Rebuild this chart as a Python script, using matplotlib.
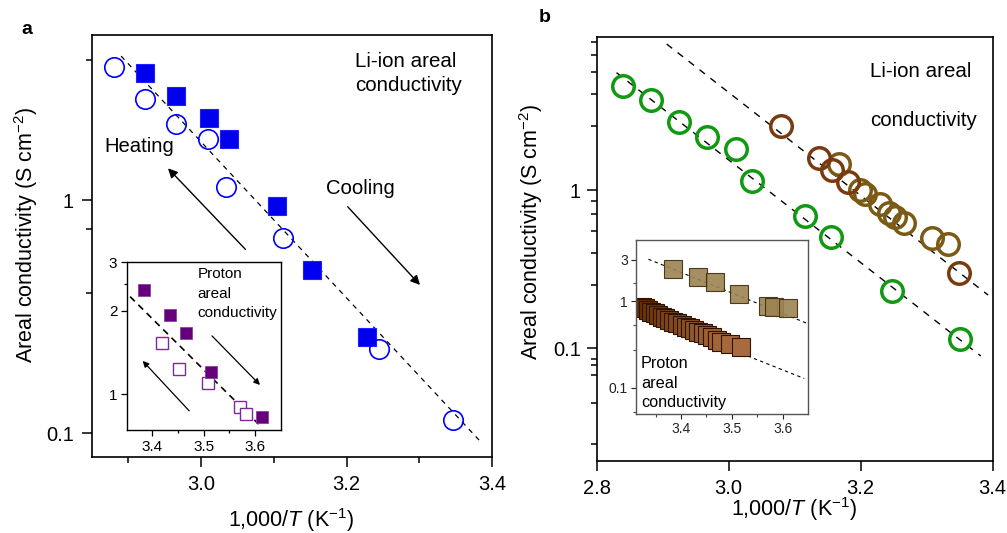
import matplotlib
matplotlib.use('Agg')
import matplotlib.pyplot as plt
from matplotlib.ticker import FixedLocator, NullFormatter, NullLocator, FixedFormatter

plt.rcParams['font.family'] = ['Liberation Sans', 'DejaVu Sans']
plt.rcParams['mathtext.fontset'] = 'custom'
plt.rcParams['mathtext.rm'] = 'Liberation Sans'
plt.rcParams['mathtext.it'] = 'Liberation Sans:italic'

# ---------------- data: panel a ----------------
a_circ_x = [2.880, 2.923, 2.966, 3.010, 3.034, 3.113, 3.245, 3.347]
a_circ_y = [3.73, 2.71, 2.13, 1.83, 1.14, 0.69, 0.229, 0.1137]
a_sq_x = [2.923, 2.966, 3.011, 3.038, 3.104, 3.153, 3.228]
a_sq_y = [3.52, 2.80, 2.26, 1.83, 0.94, 0.50, 0.259]
a_fit_x = [2.890, 3.383]
a_fit_y = [4.15, 0.0927]

# inset a (proton)
ai_fill_x = [3.384, 3.434, 3.465, 3.515, 3.613]
ai_fill_y = [2.37, 1.93, 1.66, 1.20, 0.83]
ai_open_x = [3.419, 3.452, 3.508, 3.571, 3.582]
ai_open_y = [1.53, 1.23, 1.10, 0.90, 0.85]
ai_fit_x = [3.357, 3.607]
ai_fit_y = [2.25, 0.78]

# ---------------- data: panel b ----------------
b_green_x = [2.840, 2.882, 2.925, 2.967, 3.011, 3.036, 3.115, 3.155, 3.247, 3.350]
b_green_y = [4.56, 3.70, 2.70, 2.15, 1.82, 1.14, 0.689, 0.507, 0.229, 0.114]
b_brown_x = [3.079, 3.137, 3.157, 3.181, 3.349]
b_brown_y = [2.54, 1.60, 1.34, 1.12, 0.301]
b_olive_x = [3.167, 3.199, 3.207, 3.229, 3.243, 3.252, 3.266, 3.308, 3.333]
b_olive_y = [1.47, 1.00, 0.944, 0.812, 0.72, 0.68, 0.617, 0.496, 0.456]
b_fit1_x = [2.830, 3.382]
b_fit1_y = [5.51, 0.0894]
b_fit2_x = [2.906, 3.393]
b_fit2_y = [8.36, 0.217]

# inset b (proton)
bi_up_x = [3.384, 3.434, 3.466, 3.514, 3.571, 3.582, 3.611]
bi_up_y = [2.34, 1.91, 1.67, 1.20, 0.88, 0.86, 0.84]
bi_low_x = [3.323, 3.329, 3.336, 3.342, 3.349, 3.355, 3.362, 3.369, 3.377, 3.385,
            3.393, 3.402, 3.410, 3.418, 3.426, 3.434, 3.443, 3.452, 3.461, 3.470,
            3.478, 3.497, 3.518]
bi_low_y = [0.859, 0.824, 0.787, 0.753, 0.722, 0.690, 0.659, 0.631, 0.604, 0.577,
            0.553, 0.529, 0.506, 0.484, 0.463, 0.442, 0.424, 0.406, 0.388, 0.355,
            0.340, 0.317, 0.297]
bi_fit_up_x = [3.336, 3.651]
bi_fit_up_y = [3.03, 0.543]
bi_fit_low_x = [3.312, 3.642]
bi_fit_low_y = [0.753, 0.128]

W, H = 1007, 533
fig = plt.figure(figsize=(W / 100, H / 100), dpi=100)


def px_axes(l, r, t, b):
    return fig.add_axes([l / W, (H - b) / H, (r - l) / W, (b - t) / H])


def arrow(ax, start, end, lw=1.0, ms=14):
    ax.annotate('', xy=end, xytext=start,
                arrowprops=dict(arrowstyle='-|>', color='k', lw=lw,
                                mutation_scale=ms, shrinkA=0, shrinkB=0))


DASH = (0, (4, 4))

# ================= panel a =================
ax = px_axes(92, 492, 35, 457)
ax.set_yscale('log')
ax.plot(a_fit_x, a_fit_y, color='k', lw=0.9, ls=DASH, zorder=1)
ax.plot(a_sq_x, a_sq_y, ls='none', marker='s', ms=13, mfc='#0000ee',
        mec='#2020ff', mew=0.8, zorder=3)
ax.plot(a_circ_x, a_circ_y, ls='none', marker='o', ms=14, mfc='none',
        mec='#0000ff', mew=1.2, zorder=3)
ax.set_xlim(2.85, 3.4)
ax.set_ylim(0.0789, 5.11)
ax.xaxis.set_major_locator(FixedLocator([3.0, 3.2, 3.4]))
ax.xaxis.set_minor_locator(FixedLocator([2.9, 3.1, 3.3]))
ax.xaxis.set_major_formatter(FixedFormatter(['3.0', '3.2', '3.4']))
ax.yaxis.set_major_locator(FixedLocator([0.1, 1]))
ax.yaxis.set_major_formatter(FixedFormatter(['0.1', '1']))
ax.yaxis.set_minor_locator(FixedLocator([0.4, 0.75, 4]))
ax.yaxis.set_minor_formatter(NullFormatter())
ax.tick_params(which='major', direction='out', length=7, width=1.1, labelsize=14.5, pad=6)
ax.tick_params(which='minor', direction='out', length=4, width=1.1)
for s in ax.spines.values():
    s.set_linewidth(1.2)
ax.text(0.6575, 0.925, 'Li-ion areal', transform=ax.transAxes, fontsize=14.8, va='baseline')
ax.text(0.6575, 0.867, 'conductivity', transform=ax.transAxes, fontsize=14.8, va='baseline')
ax.text(0.03, 0.7235, 'Heating', transform=ax.transAxes, fontsize=14.6, va='baseline')
ax.text(0.585, 0.623, 'Cooling', transform=ax.transAxes, fontsize=14.6, va='baseline')
arrow(ax, (3.061, 0.614), (2.9545, 1.368))
arrow(ax, (3.2016, 0.936), (3.301, 0.432))

# inset a
ia = px_axes(127, 280.7, 262, 430)
ia.set_yscale('log')
ia.plot(ai_fit_x, ai_fit_y, color='k', lw=1.2, ls=(0, (4, 3)), zorder=1)
ia.plot(ai_open_x, ai_open_y, ls='none', marker='s', ms=9, mfc='white',
        mec='#7a2a9a', mew=1.0, zorder=2)
ia.plot(ai_fill_x, ai_fill_y, ls='none', marker='s', ms=9, mfc='#66007a',
        mec='#8a40a0', mew=0.6, zorder=3)
ia.set_xlim(3.351, 3.650)
ia.set_ylim(0.743, 3.0)
ia.xaxis.set_major_locator(FixedLocator([3.4, 3.5, 3.6]))
ia.xaxis.set_major_formatter(FixedFormatter(['3.4', '3.5', '3.6']))
ia.xaxis.set_minor_locator(FixedLocator([3.45, 3.55]))
ia.yaxis.set_major_locator(FixedLocator([1, 2, 3]))
ia.yaxis.set_major_formatter(FixedFormatter(['1', '2', '3']))
ia.yaxis.set_minor_locator(FixedLocator([2.5]))
ia.yaxis.set_minor_formatter(NullFormatter())
ia.tick_params(which='major', direction='out', length=4, width=0.9, labelsize=11, pad=3)
ia.tick_params(which='minor', direction='out', length=2.5, width=0.9)
for s in ia.spines.values():
    s.set_linewidth(1.0)
for yy, tt in [(0.903, 'Proton'), (0.7875, 'areal'), (0.674, 'conductivity')]:
    ia.text(0.46, yy, tt, transform=ia.transAxes, fontsize=11, va='baseline')
arrow(ia, (3.472, 0.871), (3.3815, 1.319), lw=0.9, ms=9)
arrow(ia, (3.5163, 1.624), (3.6097, 1.08), lw=0.9, ms=9)

fig.text(26 / W, (H - 235) / H, 'Areal conductivity (S cm$^{-2}$)', rotation=90,
         ha='center', va='center', fontsize=15.5)
fig.text(291 / W, (H - 520) / H, '1,000/$\\mathit{T}$ (K$^{-1}$)', ha='center',
         va='center', fontsize=15.5)
fig.text(27 / W, (H - 30) / H, 'a', ha='center', va='center', fontsize=14, fontweight='bold')

# ================= panel b =================
bx = px_axes(596.7, 992.7, 37.3, 460.7)
bx.set_yscale('log')
bx.plot(b_fit1_x, b_fit1_y, color='k', lw=1.0, ls=(0, (5, 5)), zorder=1)
bx.plot(b_fit2_x, b_fit2_y, color='k', lw=1.0, ls=(0, (5, 5)), zorder=1)
bx.plot(b_green_x, b_green_y, ls='none', marker='o', ms=15.5, mfc='none',
        mec='#119911', mew=2.5, zorder=3)
bx.plot(b_olive_x, b_olive_y, ls='none', marker='o', ms=15.5, mfc='none',
        mec='#7a5a14', mew=2.5, zorder=3)
bx.plot(b_brown_x, b_brown_y, ls='none', marker='o', ms=15.5, mfc='none',
        mec='#7a3a10', mew=2.5, zorder=4)
bx.set_xlim(2.8, 3.4)
bx.set_ylim(0.0195, 9.22)
bx.xaxis.set_major_locator(FixedLocator([2.8, 3.0, 3.2, 3.4]))
bx.xaxis.set_major_formatter(FixedFormatter(['2.8', '3.0', '3.2', '3.4']))
bx.xaxis.set_minor_locator(NullLocator())
bx.yaxis.set_major_locator(FixedLocator([0.1, 1]))
bx.yaxis.set_major_formatter(FixedFormatter(['0.1', '1']))
bx.yaxis.set_minor_locator(FixedLocator([0.025, 0.045, 0.068, 0.079, 0.0856,
                                         0.25, 0.4, 0.55, 0.71, 0.857,
                                         2.53, 4.06, 5.55, 7.17, 8.57]))
bx.yaxis.set_minor_formatter(NullFormatter())
bx.tick_params(which='major', direction='out', length=7.5, width=1.1, labelsize=14.5, pad=4)
bx.tick_params(axis='x', which='major', pad=6)
bx.tick_params(which='minor', direction='out', length=4, width=1.1)
for s in bx.spines.values():
    s.set_linewidth(1.2)
bx.text(0.690, 0.907, 'Li-ion areal', transform=bx.transAxes, fontsize=14.8, va='baseline')
bx.text(0.690, 0.7905, 'conductivity', transform=bx.transAxes, fontsize=14.8, va='baseline')

# inset b
ib = px_axes(635.7, 807.7, 240, 414)
ib.set_yscale('log')
ib.plot(bi_fit_up_x, bi_fit_up_y, color='k', lw=0.8, ls=(0, (3, 3)), zorder=1)
ib.plot(bi_fit_low_x, bi_fit_low_y, color='k', lw=0.8, ls=(0, (3, 3)), zorder=1)
n = len(bi_low_x)
for i, (xx, yy) in enumerate(zip(bi_low_x, bi_low_y)):
    f = i / (n - 1)
    c0 = (0.38, 0.17, 0.0)
    c1 = (0.66, 0.42, 0.25)
    col = tuple(c0[k] + (c1[k] - c0[k]) * f for k in range(3))
    ib.plot([xx], [yy], ls='none', marker='s', ms=13, mfc=col, mec='#2e1400',
            mew=0.8, zorder=2 + i * 0.01)
ib.plot(bi_up_x, bi_up_y, ls='none', marker='s', ms=13, mfc='#9c8352',
        mec='#3a2c0c', mew=0.8, alpha=0.9, zorder=3)
ib.set_xlim(3.311, 3.649)
ib.set_ylim(0.0498, 5.05)
ib.xaxis.set_major_locator(FixedLocator([3.4, 3.5, 3.6]))
ib.xaxis.set_major_formatter(FixedFormatter(['3.4', '3.5', '3.6']))
ib.xaxis.set_minor_locator(FixedLocator([3.35, 3.45, 3.55]))
ib.yaxis.set_major_locator(FixedLocator([0.1, 1, 3]))
ib.yaxis.set_major_formatter(FixedFormatter(['0.1', '1', '3']))
ib.yaxis.set_minor_locator(FixedLocator([0.052, 0.27, 0.53, 1.6]))
ib.yaxis.set_minor_formatter(NullFormatter())
ib.tick_params(which='major', direction='out', length=3.5, width=0.8, labelsize=10,
               pad=2, colors='#222222')
ib.tick_params(which='minor', direction='out', length=2.5, width=0.8, colors='#444444')
for s in ib.spines.values():
    s.set_linewidth(1.0)
    s.set_color('#555555')
for yy, tt in [(0.263, 'Proton'), (0.148, 'areal'), (0.042, 'conductivity')]:
    ib.text(0.031, yy, tt, transform=ib.transAxes, fontsize=11.7, va='baseline', zorder=10)

fig.text(531 / W, (H - 232) / H, 'Areal conductivity (S cm$^{-2}$)', rotation=90,
         ha='center', va='center', fontsize=15.5)
fig.text(794 / W, (H - 509) / H, '1,000/$\\mathit{T}$ (K$^{-1}$)', ha='center',
         va='center', fontsize=15.5)
fig.text(545 / W, (H - 18) / H, 'b', ha='center', va='center', fontsize=14, fontweight='bold')

fig.savefig('out.png', dpi=100)
